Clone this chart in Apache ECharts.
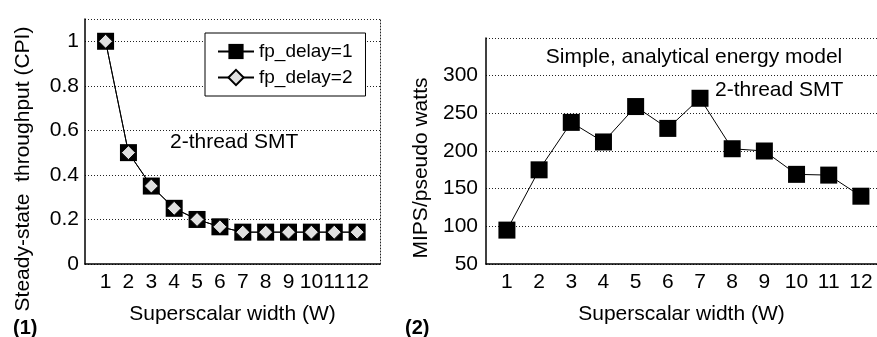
<!doctype html>
<html>
<head>
<meta charset="utf-8" />
<script src="https://cdn.jsdelivr.net/npm/echarts@6/dist/echarts.min.js"></script>
<style>
html, body { margin: 0; padding: 0; background: #fff; }
#chart { width: 877px; height: 337px; }
</style>
</head>
<body>
<div id="chart"></div>
<script>
// superscalar width W
const widths = [1, 2, 3, 4, 5, 6, 7, 8, 9, 10, 11, 12];
// (1) steady-state throughput (CPI)
const cpiDelay1 = [1, 0.5, 0.35, 0.25, 0.2, 0.167, 0.143, 0.143, 0.143, 0.143, 0.143, 0.143];
const cpiDelay2 = [1, 0.5, 0.35, 0.25, 0.2, 0.167, 0.143, 0.143, 0.143, 0.143, 0.143, 0.143];
// (2) MIPS / pseudo watts
const mipsPerWatt = [95, 175, 238, 212, 259, 230, 270, 203, 200, 169, 168, 140];

const FONT = 'Liberation Sans';
const dotted = { color: '#222', width: 1, type: [1, 2] };
const axisLine = { lineStyle: { color: '#000', width: 1.5 } };

function pairs(ys) {
    return widths.map((w, i) => [w, ys[i]]);
}

let options = {
    animation: false,
    textStyle: { fontFamily: FONT, color: '#000' },
    grid: [
        { left: 85, right: 497, top: 19, bottom: 73 },
        { left: 486, right: -1, top: 38, bottom: 73 }
    ],
    legend: {
        left: 205,
        top: 33,
        orient: 'vertical',
        data: ['fp_delay=1', 'fp_delay=2'],
        backgroundColor: '#fff',
        borderColor: '#000',
        borderWidth: 1,
        borderRadius: 0,
        padding: [9, 13, 9, 12],
        itemWidth: 36,
        itemHeight: 19,
        itemGap: 7,
        textStyle: { fontFamily: FONT, fontSize: 19, color: '#000' }
    },
    xAxis: [{
        type: 'value',
        gridIndex: 0,
        min: 0.1,
        max: 13,
        axisLine: axisLine,
        axisTick: { show: false },
        splitLine: { show: false },
        axisLabel: { customValues: widths, fontSize: 21, color: '#000', margin: 8 },
        name: 'Superscalar width (W)',
        nameLocation: 'middle',
        nameGap: 40,
        nameTextStyle: { fontSize: 21, color: '#000' }
    }, {
        type: 'value',
        gridIndex: 1,
        min: 0.35,
        max: 12.5,
        axisLine: axisLine,
        axisTick: { show: false },
        splitLine: { show: false },
        axisLabel: { customValues: widths, fontSize: 21, color: '#000', margin: 8 },
        name: 'Superscalar width (W)',
        nameLocation: 'middle',
        nameGap: 40,
        nameTextStyle: { fontSize: 21, color: '#000' }
    }],
    yAxis: [{
        type: 'value',
        gridIndex: 0,
        min: 0,
        max: 1.1,
        interval: 0.2,
        axisLine: { show: true, lineStyle: { color: '#000', width: 1.5 } },
        axisTick: { show: false },
        splitLine: { lineStyle: dotted },
        axisLabel: { fontSize: 21, color: '#000', margin: 6, showMaxLabel: false }
    }, {
        type: 'value',
        gridIndex: 0,
        position: 'right',
        min: 0,
        max: 1.1,
        axisLine: { show: true, lineStyle: dotted },
        axisTick: { show: false },
        axisLabel: { show: false },
        splitLine: { show: false }
    }, {
        type: 'value',
        gridIndex: 1,
        min: 50,
        max: 350,
        interval: 50,
        axisLine: { show: true, lineStyle: { color: '#000', width: 1.5 } },
        axisTick: { show: false },
        splitLine: { lineStyle: dotted },
        axisLabel: { fontSize: 21, color: '#000', margin: 8, showMaxLabel: false }
    }],
    series: [{
        name: 'fp_delay=1',
        type: 'line',
        xAxisIndex: 0,
        yAxisIndex: 0,
        data: pairs(cpiDelay1),
        symbol: 'rect',
        symbolSize: 17,
        itemStyle: { color: '#000' },
        lineStyle: { color: '#000', width: 1 },
        z: 2
    }, {
        name: 'fp_delay=2',
        type: 'line',
        xAxisIndex: 0,
        yAxisIndex: 0,
        data: pairs(cpiDelay2),
        symbol: 'diamond',
        symbolSize: 14,
        itemStyle: { color: '#e0e0e0', borderColor: '#000', borderWidth: 1 },
        lineStyle: { color: '#000', width: 1 },
        z: 3
    }, {
        name: 'MIPS/pseudo watts',
        type: 'line',
        xAxisIndex: 1,
        yAxisIndex: 2,
        data: pairs(mipsPerWatt),
        symbol: 'rect',
        symbolSize: 17,
        itemStyle: { color: '#000' },
        lineStyle: { color: '#000', width: 1 }
    }],
    graphic: [
        { type: 'text', x: 23, y: 169, rotation: Math.PI / 2,
          style: { text: 'Steady-state  throughput (CPI)', font: '21px ' + FONT, fill: '#000', align: 'center', verticalAlign: 'middle' } },
        { type: 'text', x: 421, y: 168, rotation: Math.PI / 2,
          style: { text: 'MIPS/pseudo watts', font: '21px ' + FONT, fill: '#000', align: 'center', verticalAlign: 'middle' } },
        { type: 'text', x: 170, y: 142,
          style: { text: '2-thread SMT', font: '21px ' + FONT, fill: '#000', align: 'left', verticalAlign: 'middle' } },
        { type: 'text', x: 694, y: 57,
          style: { text: 'Simple, analytical energy model', font: '21px ' + FONT, fill: '#000', align: 'center', verticalAlign: 'middle' } },
        { type: 'text', x: 715, y: 90,
          style: { text: '2-thread SMT', font: '21px ' + FONT, fill: '#000', align: 'left', verticalAlign: 'middle' } },
        { type: 'text', x: 13, y: 328,
          style: { text: '(1)', font: 'bold 20px ' + FONT, fill: '#000', align: 'left', verticalAlign: 'middle' } },
        { type: 'text', x: 405, y: 328,
          style: { text: '(2)', font: 'bold 20px ' + FONT, fill: '#000', align: 'left', verticalAlign: 'middle' } }
    ]
};

var myChart = echarts.init(document.getElementById('chart'));
myChart.setOption(options);
</script>
</body>
</html>
